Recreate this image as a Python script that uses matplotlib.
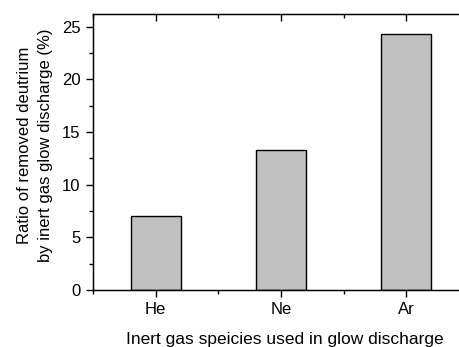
import matplotlib
matplotlib.use("Agg")
import matplotlib.pyplot as plt
from matplotlib.ticker import MultipleLocator

gases = ["He", "Ne", "Ar"]
ratio = [7.05, 13.3, 24.3]

plt.rcParams["font.family"] = ["Liberation Sans", "DejaVu Sans"]

fig = plt.figure(figsize=(4.59, 3.47), dpi=100)
# right edge of the frame falls outside the picture, as in the original
ax = fig.add_axes([93 / 459, (347 - 290) / 347, (469 - 93) / 459, (290 - 14) / 347])

pos = [1, 2, 3]
ax.bar(pos, ratio, width=0.4, color="#c0c0c0", edgecolor="black", linewidth=1.0)

ax.set_xlim(0.5, 3.5)
ax.set_ylim(0, 26.2)
ax.set_xticks(pos)
ax.set_xticklabels(gases)
ax.xaxis.set_minor_locator(MultipleLocator(0.5))
ax.yaxis.set_major_locator(MultipleLocator(5))
ax.yaxis.set_minor_locator(MultipleLocator(2.5))

ax.tick_params(axis="both", which="major", labelsize=12, length=5, width=1, direction="out", pad=4)
ax.tick_params(axis="both", which="minor", length=3, width=1, direction="out")

# top ticks point inward
top = ax.twiny()
top.set_xlim(ax.get_xlim())
top.set_xticks(pos)
top.xaxis.set_minor_locator(MultipleLocator(0.5))
top.tick_params(axis="x", which="major", direction="in", length=5, width=1, labeltop=False)
top.tick_params(axis="x", which="minor", direction="in", length=3, width=1)

for s in ax.spines.values():
    s.set_linewidth(1.0)

ax.set_xlabel("Inert gas speicies used in glow discharge", fontsize=12.5)
ax.xaxis.set_label_coords(0.509, -0.152)
ax.set_ylabel("Ratio of removed deutrium\nby inert gas glow discharge (%)", fontsize=12,
              linespacing=1.45)
ax.yaxis.set_label_coords(-0.107, 0.525)

fig.savefig("out.png", dpi=100)
